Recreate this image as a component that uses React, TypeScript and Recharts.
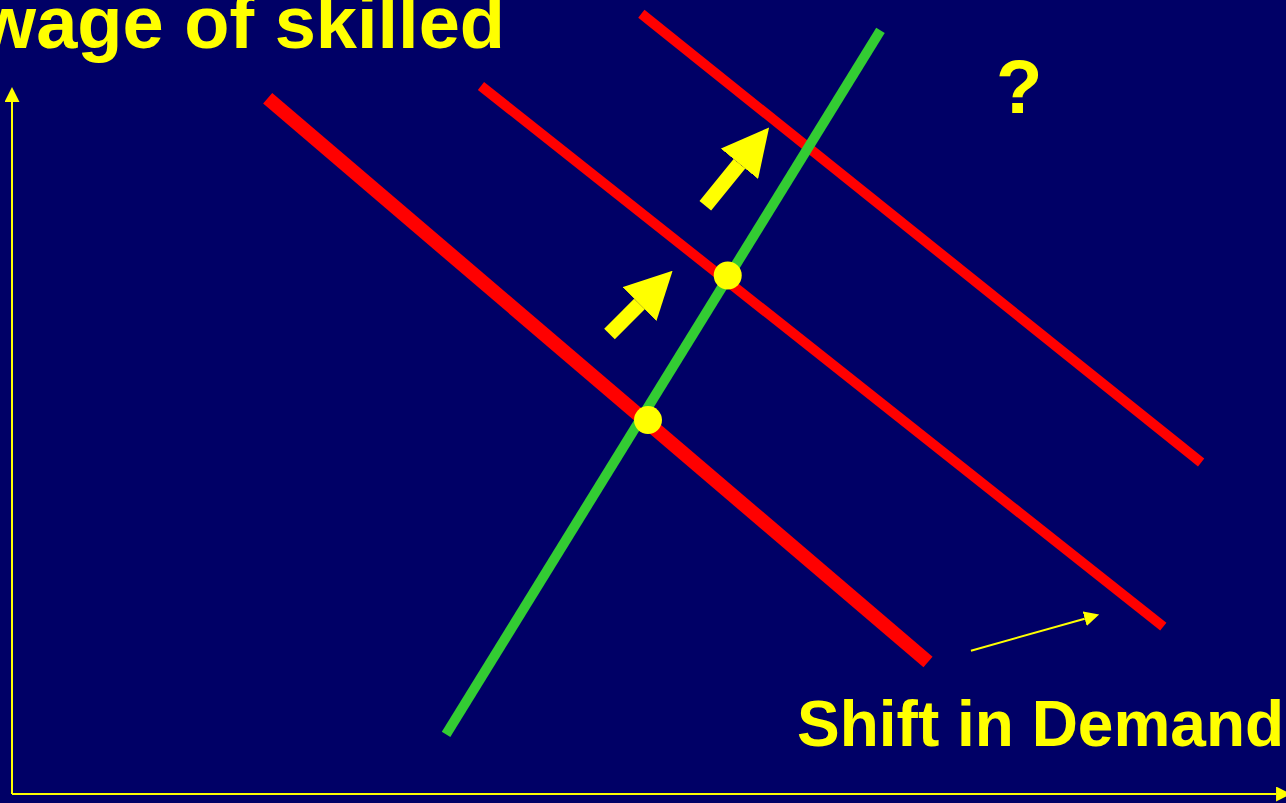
import React from 'react';
import { ComposedChart, Line, Scatter, XAxis, YAxis } from 'recharts';

// Units: quantity of skilled labour (q) and wage (w), both on a 0..100 scale
const demandOld = [
  { q: 20.07, w: 87.62 },
  { q: 71.9, w: 16.62 },
];
const demandMid = [
  { q: 36.81, w: 89.17 },
  { q: 90.37, w: 21.07 },
];
const demandNew = [
  { q: 49.4, w: 98.27 },
  { q: 93.34, w: 41.75 },
];
const supply = [
  { q: 34.07, w: 7.52 },
  { q: 68.17, w: 96.16 },
];
const equilibria = [
  { q: 49.92, w: 47.1 },
  { q: 56.18, w: 65.3 },
];
const shiftArrowLow = [
  { q: 46.9, w: 57.93 },
  { q: 49.25, w: 61.71 },
];
const shiftArrowHigh = [
  { q: 54.42, w: 74.09 },
  { q: 57.1, w: 79.37 },
];
const pointerArrow = [
  { q: 75.27, w: 18.05 },
  { q: 84.2, w: 22.08 },
];
const wageAxis = [
  { q: 0, w: 0 },
  { q: 0, w: 87.15 },
];
const quantityAxis = [
  { q: 0, w: 0 },
  { q: 99.22, w: 0 },
];

const titleText = 'wage of skilled';
const questionText = '?';
const shiftText = 'Shift in Demand';

const BG = '#000066';
const RED = '#ff0000';
const GREEN = '#33cc33';
const YELLOW = '#ffff00';
const FONT = '"Liberation Sans", Arial, sans-serif';

const Markers = () => (
  <svg width={0} height={0} style={{ position: 'absolute' }}>
    <defs>
      <marker
        id="blockHead"
        viewBox="0 0 3.13 3.2"
        markerWidth={3.13}
        markerHeight={3.2}
        refX={0}
        refY={1.6}
        orient="auto"
        markerUnits="strokeWidth"
      >
        <path d="M0,0 L3.13,1.6 L0,3.2 Z" fill={YELLOW} />
      </marker>
      <marker
        id="thinHead"
        viewBox="0 0 7.5 7.5"
        markerWidth={7.5}
        markerHeight={7.5}
        refX={0}
        refY={3.75}
        orient="auto"
        markerUnits="strokeWidth"
      >
        <path d="M0,0 L7.5,3.75 L0,7.5 Z" fill={YELLOW} />
      </marker>
    </defs>
  </svg>
);

const segment = (data: Array<{ q: number; w: number }>, color: string, width: number, marker?: string) => (
  <Line
    data={data}
    dataKey="w"
    stroke={color}
    strokeWidth={width}
    strokeLinecap="butt"
    dot={false}
    activeDot={false}
    isAnimationActive={false}
    markerEnd={marker ? `url(#${marker})` : undefined}
  />
);

export default function App() {
  return (
    <div style={{ position: 'fixed', left: 0, top: 0, width: 1286, height: 803, background: BG, overflow: 'hidden' }}>
      <Markers />
      <ComposedChart width={1286} height={803} margin={{ top: 0, right: 0, left: 12, bottom: 9 }}>
        <XAxis type="number" dataKey="q" domain={[0, 100]} hide />
        <YAxis type="number" dataKey="w" domain={[0, 100]} hide />
        {segment(wageAxis, YELLOW, 2, 'thinHead')}
        {segment(quantityAxis, YELLOW, 2, 'thinHead')}
        {segment(demandOld, RED, 14)}
        {segment(demandMid, RED, 10)}
        {segment(demandNew, RED, 10)}
        <Scatter
          data={equilibria}
          dataKey="w"
          isAnimationActive={false}
          shape={(p: any) => <circle cx={p.cx} cy={p.cy} r={14} fill={YELLOW} />}
        />
        {segment(supply, GREEN, 10)}
        {segment(shiftArrowLow, YELLOW, 15, 'blockHead')}
        {segment(shiftArrowHigh, YELLOW, 15, 'blockHead')}
        {segment(pointerArrow, YELLOW, 2, 'thinHead')}
        <text x={505} y={48} textAnchor="end" fontFamily={FONT} fontWeight="bold" fontSize={74} fill={YELLOW}>
          {titleText}
        </text>
        <text x={996} y={113} fontFamily={FONT} fontWeight="bold" fontSize={76} fill={YELLOW}>
          {questionText}
        </text>
        <text x={797} y={746} fontFamily={FONT} fontWeight="bold" fontSize={64} fill={YELLOW}>
          {shiftText}
        </text>
      </ComposedChart>
    </div>
  );
}
